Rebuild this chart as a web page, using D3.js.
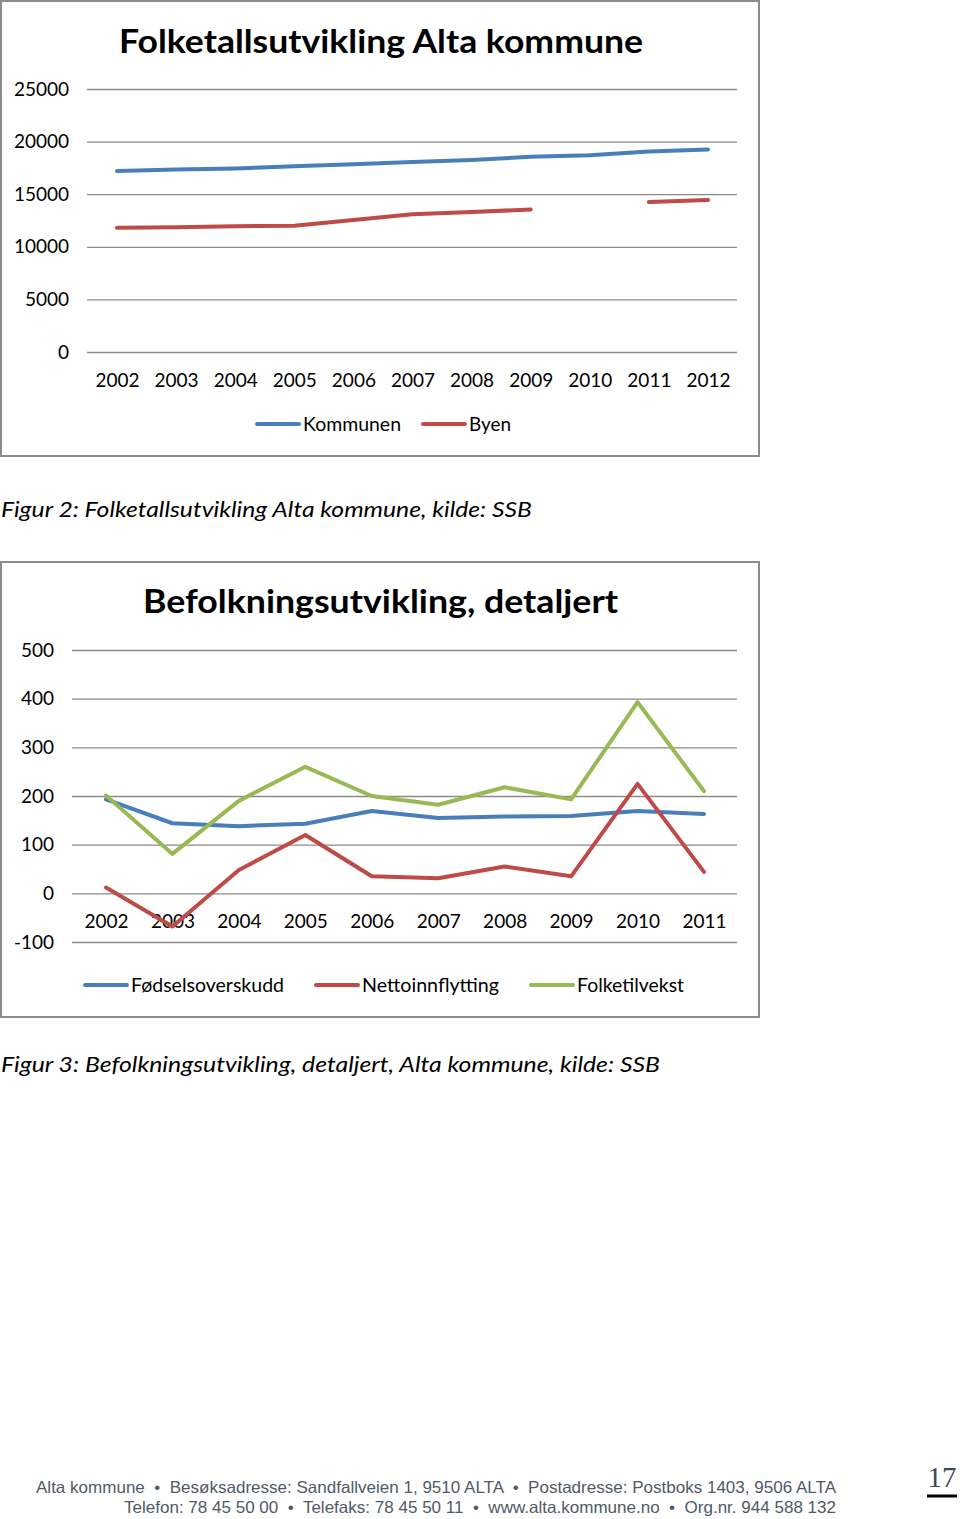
<!DOCTYPE html>
<html><head><meta charset="utf-8">
<script src="https://cdn.jsdelivr.net/npm/d3@7"></script>
<style>body{margin:0;background:#fff}svg{display:block}text{white-space:pre}</style>
</head><body>
<svg id="c" width="960" height="1519"></svg>
<script>
// ---- Data ----
const years1 = [2002, 2003, 2004, 2005, 2006, 2007, 2008, 2009, 2010, 2011, 2012];
const kommunen = [17200, 17350, 17450, 17650, 17850, 18050, 18250, 18550, 18700, 19050, 19250];
const byen = [11800, 11850, 11950, 12000, 12550, 13100, 13300, 13550, null, 14250, 14450];
const ticks1 = [0, 5000, 10000, 15000, 20000, 25000];

const years2 = [2002, 2003, 2004, 2005, 2006, 2007, 2008, 2009, 2010, 2011];
const fodselsoverskudd = [193, 144, 138, 143, 169, 155, 158, 159, 169, 163];
const nettoinnflytting = [12, -68, 48, 120, 35, 31, 55, 35, 225, 44];
const folketilvekst = [201, 81, 190, 260, 200, 182, 218, 193, 393, 210];
const ticks2 = [-100, 0, 100, 200, 300, 400, 500];

const title1 = "Folketallsutvikling Alta kommune";
const title2 = "Befolkningsutvikling, detaljert";
const caption1 = "Figur 2: Folketallsutvikling Alta kommune, kilde: SSB";
const caption2 = "Figur 3: Befolkningsutvikling, detaljert, Alta kommune, kilde: SSB";
const footer1 = "Alta kommune  •  Besøksadresse: Sandfallveien 1, 9510 ALTA  •  Postadresse: Postboks 1403, 9506 ALTA";
const footer2 = "Telefon: 78 45 50 00  •  Telefaks: 78 45 50 11  •  www.alta.kommune.no  •  Org.nr. 944 588 132";
const pageNo = "17";

const BLUE = "#4a7ebb", RED = "#be4b48", GREEN = "#98b954";
const FONT = "Lato, 'Open Sans', sans-serif";

const svg = d3.select("#c");

function txt(g, s, x, y, size, opts = {}) {
  const t = g.append("text").attr("x", x).attr("y", y)
    .attr("font-family", opts.family || FONT)
    .attr("font-size", size)
    .attr("fill", opts.fill || "#000")
    .text(s);
  if (opts.weight) t.attr("font-weight", opts.weight);
  if (opts.italic) t.attr("font-style", "italic");
  if (opts.anchor) t.attr("text-anchor", opts.anchor);
  if (opts.len) t.attr("textLength", opts.len).attr("lengthAdjust", "spacingAndGlyphs");
  return t;
}

function frame(y0, h) {
  svg.append("rect").attr("x", 1).attr("y", y0).attr("width", 758).attr("height", h)
    .attr("fill", "#fff").attr("stroke", "#8c8c8c").attr("stroke-width", 2);
}

function chart(cfg) {
  const g = svg.append("g");
  const x = d3.scalePoint().domain(cfg.years).range(cfg.xr);
  const y = d3.scaleLinear().domain(cfg.yd).range(cfg.yr);
  // gridlines + y labels
  const ya = g.append("g").attr("transform", `translate(${cfg.gx0},0)`)
    .call(d3.axisLeft(y).tickValues(cfg.ticks).tickSize(-(737 - cfg.gx0)).tickPadding(cfg.gx0 - cfg.labelX).tickFormat(d => String(d)));
  ya.select(".domain").remove();
  ya.selectAll(".tick line").attr("stroke", "#8a8a8a").attr("stroke-width", 1.3);
  ya.selectAll(".tick text").attr("font-family", FONT).attr("font-size", 19).attr("fill", "#000");
  // x labels
  const xa = g.append("g").attr("transform", `translate(0,${cfg.xLabelY})`)
    .call(d3.axisBottom(x).tickSize(0).tickPadding(0).tickFormat(d => String(d)));
  xa.select(".domain").remove();
  xa.selectAll(".tick text").attr("font-family", FONT).attr("font-size", 19).attr("fill", "#000").attr("dy", "0.35em");
  // lines
  cfg.series.forEach(s => {
    const line = d3.line().defined(d => d.v != null).x(d => x(d.y)).y(d => y(d.v));
    g.append("path").datum(cfg.years.map((yr, i) => ({y: yr, v: s.values[i]})))
      .attr("d", line).attr("fill", "none").attr("stroke", s.color)
      .attr("stroke-width", 4).attr("stroke-linejoin", "round").attr("stroke-linecap", "round");
  });
  // legend
  cfg.series.forEach(s => {
    g.append("line").attr("x1", s.lx).attr("x2", s.lx + 42).attr("y1", cfg.legY).attr("y2", cfg.legY)
      .attr("stroke", s.color).attr("stroke-width", 4).attr("stroke-linecap", "round");
    txt(g, s.name, s.lx + 46, cfg.legY + 7, 19, {len: s.tl});
  });
  // title
  txt(g, cfg.title, cfg.tx, cfg.ty, 33, {weight: "bold", len: cfg.tlen});
}

// Chart 1
frame(1, 455);
chart({
  years: years1, xr: [117, 708], yd: [0, 25000], yr: [352, 89], ticks: ticks1,
  gx0: 87, labelX: 69, xLabelY: 380, legY: 424,
  series: [
    {name: "Kommunen", values: kommunen, color: BLUE, lx: 257, tl: 98},
    {name: "Byen", values: byen, color: RED, lx: 423, tl: 42}
  ],
  title: title1, tx: 119, ty: 53, tlen: 524
});

// Chart 2
frame(562, 455);
chart({
  years: years2, xr: [106, 704], yd: [-100, 500], yr: [942, 650], ticks: ticks2,
  gx0: 72, labelX: 54, xLabelY: 921, legY: 985,
  series: [
    {name: "Fødselsoverskudd", values: fodselsoverskudd, color: BLUE, lx: 85, tl: 153},
    {name: "Nettoinnflytting", values: nettoinnflytting, color: RED, lx: 316, tl: 137},
    {name: "Folketilvekst", values: folketilvekst, color: GREEN, lx: 531, tl: 107}
  ],
  title: title2, tx: 143, ty: 613, tlen: 475
});

// Captions
txt(svg, caption1, 1, 517, 22, {italic: true, len: 531});
txt(svg, caption2, 1, 1072, 22, {italic: true, len: 659});

// Footer
const FF = "'Liberation Sans', Arial, sans-serif";
txt(svg, footer1, 36, 1493, 16.5, {family: FF, fill: "#4f5a66", len: 800});
txt(svg, footer2, 124, 1513, 16.5, {family: FF, fill: "#4f5a66", len: 712});
txt(svg, pageNo, 942, 1487, 29, {family: "'Liberation Serif', 'DejaVu Serif', serif", fill: "#3f4750", anchor: "middle"});
svg.append("line").attr("x1", 927).attr("x2", 957).attr("y1", 1496).attr("y2", 1496)
  .attr("stroke", "#000").attr("stroke-width", 3);
</script>
</body></html>
